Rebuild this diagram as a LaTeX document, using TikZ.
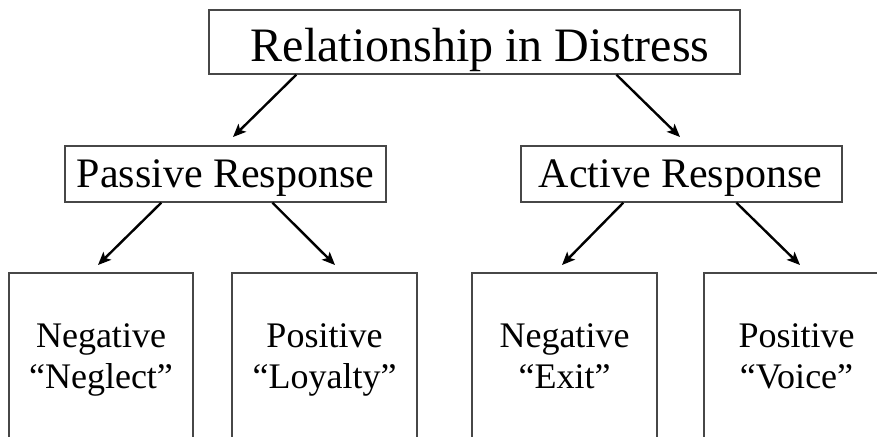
\documentclass[tikz,border=0pt]{standalone}
\usepackage{fontspec}
\setmainfont{Liberation Serif}
\usetikzlibrary{arrows.meta,calc}
\begin{document}
\begin{tikzpicture}[x=1pt,y=-1pt,
  box/.style={draw=black!72, line width=1.3pt, inner sep=0pt},
  lbl/.style={anchor=base, inner sep=0pt},
  big/.style={font=\fontsize{48}{58}\selectfont},
  mid/.style={font=\fontsize{42}{50}\selectfont},
  sml/.style={font=\fontsize{36}{41}\selectfont},
  arr/.style={line width=2.4pt, -{Stealth[length=13pt,width=11pt,inset=3pt]}}]
\useasboundingbox (0,0) rectangle (877,436);
\clip (0,0) rectangle (877,436);
% top box
\node[box, minimum width=531pt, minimum height=64pt] (top) at (474.5,42) {};
\node[lbl, big] (toptxt) at (480,61) {Relationship in Distress};
% middle boxes
\node[box, minimum width=321pt, minimum height=56pt] (pas) at (225.5,174) {};
\node[lbl, mid] (pastxt) at (225.5,187) {Passive Response};
\node[box, minimum width=321pt, minimum height=56pt] (act) at (681.5,174) {};
\node[lbl, mid] (acttxt) at (680.5,187) {Active Response};
% bottom boxes
\node[box, minimum width=184pt, minimum height=207pt] (nb1) at (101,376.5) {};
\node[box, minimum width=185pt, minimum height=207pt] (nb2) at (324.5,376.5) {};
\node[box, minimum width=185pt, minimum height=207pt] (nb3) at (564.5,376.5) {};
\node[box, minimum width=185pt, minimum height=207pt] (nb4) at (796.5,376.5) {};
\node[lbl, sml] (nb1a) at (101,347) {Negative};
\node[lbl, sml] (nb1b) at (101,388) {“Neglect”};
\node[lbl, sml] (nb2a) at (324.5,347) {Positive};
\node[lbl, sml] (nb2b) at (324.5,388) {“Loyalty”};
\node[lbl, sml] (nb3a) at (564.5,347) {Negative};
\node[lbl, sml] (nb3b) at (564.5,388) {“Exit”};
\node[lbl, sml] (nb4a) at (796.5,347) {Positive};
\node[lbl, sml] (nb4b) at (796.5,388) {“Voice”};
% arrow tips
\coordinate (t1) at (233,137);
\coordinate (t2) at (680,137);
\coordinate (t3) at (98,265);
\coordinate (t4) at (335,265);
\coordinate (t5) at (562,265);
\coordinate (t6) at (800,265);
% connectors
\draw[arr] ($(top.south west)+(88,0)$) -- (t1);
\draw[arr] ($(top.south west)+(408,0)$) -- (t2);
\draw[arr] ($(pas.south west)+(97,0)$) -- (t3);
\draw[arr] ($(pas.south west)+(208,0)$) -- (t4);
\draw[arr] ($(act.south west)+(103,0)$) -- (t5);
\draw[arr] ($(act.south west)+(216,0)$) -- (t6);
\end{tikzpicture}
\end{document}
